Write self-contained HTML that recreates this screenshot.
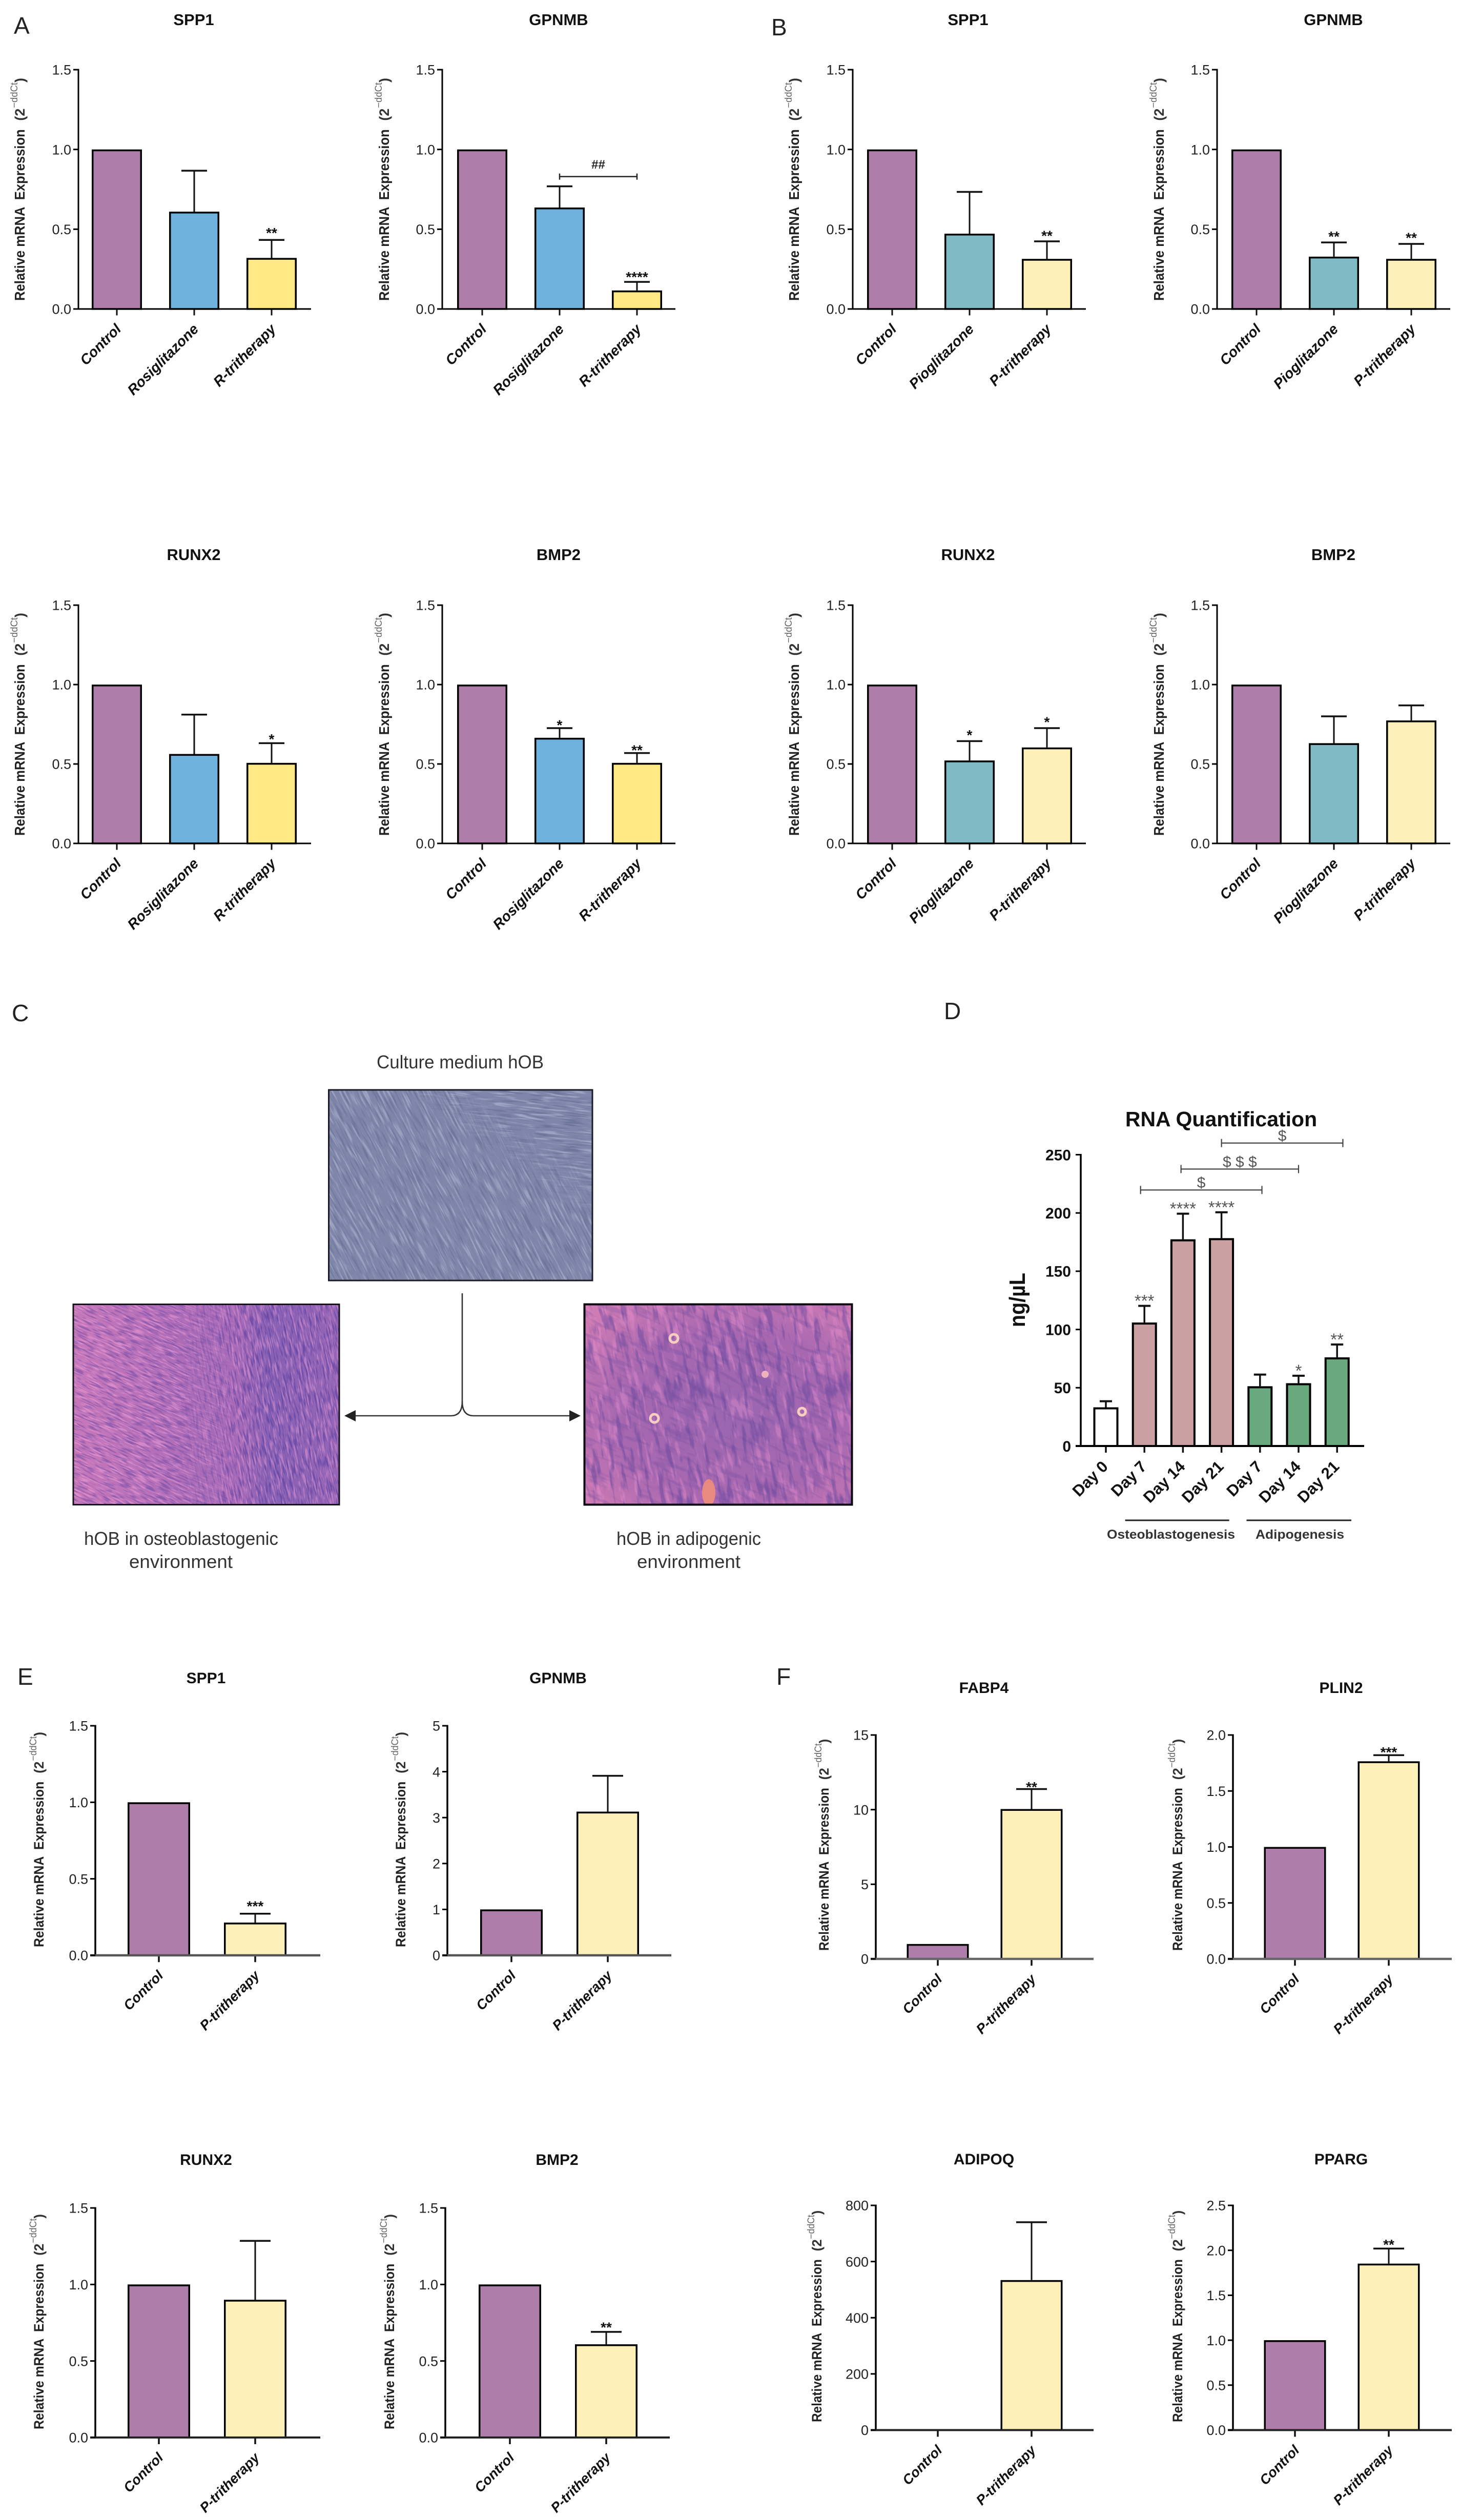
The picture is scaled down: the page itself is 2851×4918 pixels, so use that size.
<!DOCTYPE html>
<html lang="en">
<head>
<meta charset="utf-8">
<title>hOB gene expression figure</title>
<style>
html,body{margin:0;padding:0;background:#fff;}
svg{display:block;}
text{font-family:"Liberation Sans",sans-serif;}
</style>
</head>
<body>
<svg id="figure" xmlns="http://www.w3.org/2000/svg" width="2851" height="4918" viewBox="0 0 2851 4918">
  <defs>
    <filter id="topLight" x="0" y="0" width="1" height="1" color-interpolation-filters="sRGB"><feTurbulence type="fractalNoise" baseFrequency="0.022 0.24" numOctaves="2" seed="3"/><feColorMatrix values="0 0 0 0 0.85  0 0 0 0 0.87  0 0 0 0 0.95  5 0 0 0 -2.6"/></filter>
    <filter id="topDark" x="0" y="0" width="1" height="1" color-interpolation-filters="sRGB"><feTurbulence type="fractalNoise" baseFrequency="0.022 0.24" numOctaves="2" seed="11"/><feColorMatrix values="0 0 0 0 0.32  0 0 0 0 0.35  0 0 0 0 0.5  5 0 0 0 -2.6"/></filter>
    <filter id="pinkLight" x="0" y="0" width="1" height="1" color-interpolation-filters="sRGB"><feTurbulence type="fractalNoise" baseFrequency="0.04 0.3" numOctaves="2" seed="5"/><feColorMatrix values="0 0 0 0 0.98  0 0 0 0 0.66  0 0 0 0 0.87  6 0 0 0 -3"/></filter>
    <filter id="pinkDark" x="0" y="0" width="1" height="1" color-interpolation-filters="sRGB"><feTurbulence type="fractalNoise" baseFrequency="0.04 0.3" numOctaves="2" seed="17"/><feColorMatrix values="0 0 0 0 0.27  0 0 0 0 0.2  0 0 0 0 0.6  6 0 0 0 -3"/></filter>
    <filter id="cellLight" x="0" y="0" width="1" height="1" color-interpolation-filters="sRGB"><feTurbulence type="fractalNoise" baseFrequency="0.018 0.09" numOctaves="3" seed="9"/><feColorMatrix values="0 0 0 0 0.93  0 0 0 0 0.58  0 0 0 0 0.82  6 0 0 0 -3.2"/></filter>
    <filter id="cellDark" x="0" y="0" width="1" height="1" color-interpolation-filters="sRGB"><feTurbulence type="fractalNoise" baseFrequency="0.018 0.09" numOctaves="3" seed="23"/><feColorMatrix values="0 0 0 0 0.4  0 0 0 0 0.28  0 0 0 0 0.62  6 0 0 0 -3.2"/></filter>
    <clipPath id="clipTop"><rect x="640" y="2126" width="517" height="374"/></clipPath>
    <clipPath id="clipLeft"><rect x="142" y="2544" width="521" height="394"/></clipPath>
    <clipPath id="clipRight"><rect x="1139" y="2544" width="525" height="394"/></clipPath>
    <linearGradient id="topCornerFade" gradientUnits="userSpaceOnUse" x1="1010" y1="2290" x2="1060" y2="2215"><stop offset="0" stop-color="#000"/><stop offset="1" stop-color="#fff"/></linearGradient>
    <linearGradient id="leftFade" gradientUnits="userSpaceOnUse" x1="340" y1="2740" x2="470" y2="2740"><stop offset="0" stop-color="#000"/><stop offset="1" stop-color="#fff"/></linearGradient>
    <mask id="topCornerMask" maskUnits="userSpaceOnUse" x="640" y="2126" width="517" height="374"><rect x="640" y="2126" width="517" height="374" fill="url(#topCornerFade)"/></mask>
    <mask id="leftMask" maskUnits="userSpaceOnUse" x="142" y="2544" width="521" height="394"><rect x="142" y="2544" width="521" height="394" fill="url(#leftFade)"/></mask>
    <linearGradient id="leftGrad" x1="0" y1="0" x2="1" y2="0"><stop offset="0" stop-color="#c878ba"/><stop offset="0.42" stop-color="#ad6cb8"/><stop offset="0.62" stop-color="#8760b4"/><stop offset="1" stop-color="#9766b6"/></linearGradient>
    <radialGradient id="rightGrad" cx="0.55" cy="0.55" r="0.7"><stop offset="0" stop-color="#9a66b0"/><stop offset="0.6" stop-color="#a868b0"/><stop offset="1" stop-color="#d07cb4"/></radialGradient>
  </defs>

  <text x="27" y="66" font-size="46" fill="#222">A</text>
  <text x="1505" y="69" font-size="46" fill="#222">B</text>
  <text x="23" y="1993" font-size="46" fill="#222">C</text>
  <text x="1842" y="1989" font-size="46" fill="#222">D</text>
  <text x="34" y="3288" font-size="46" fill="#222">E</text>
  <text x="1515" y="3288" font-size="46" fill="#222">F</text>

  <g>
    <text x="735" y="2085" font-size="36" fill="#333" textLength="326" lengthAdjust="spacingAndGlyphs">Culture medium hOB</text>

    <g>
      <rect x="640" y="2126" width="517" height="374" fill="#7f86aa"/>
      <g clip-path="url(#clipTop)">
        <g transform="rotate(62 898 2313)"><rect x="400" y="1800" width="1000" height="1000" filter="url(#topLight)" opacity="0.32"/><rect x="400" y="1800" width="1000" height="1000" filter="url(#topDark)" opacity="0.32"/></g>
        <g mask="url(#topCornerMask)">
          <rect x="900" y="2126" width="257" height="260" fill="#7f86aa"/>
          <g transform="rotate(6 1058 2230)"><rect x="800" y="2000" width="520" height="460" filter="url(#topLight)" opacity="0.36"/><rect x="800" y="2000" width="520" height="460" filter="url(#topDark)" opacity="0.36"/></g>
        </g>
      </g>
      <rect x="641.5" y="2127" width="514.5" height="372" fill="none" stroke="#1c1c24" stroke-width="3"/>
    </g>

    <g>
      <rect x="142" y="2544" width="521" height="394" fill="url(#leftGrad)"/>
      <g clip-path="url(#clipLeft)">
        <g transform="rotate(25 280 2740)"><rect x="-100" y="2300" width="1000" height="900" filter="url(#pinkLight)" opacity="0.45"/><rect x="-100" y="2300" width="1000" height="900" filter="url(#pinkDark)" opacity="0.35"/></g>
        <g mask="url(#leftMask)">
          <rect x="300" y="2544" width="363" height="394" fill="url(#leftGrad)"/>
          <g transform="rotate(78 530 2740)"><rect x="100" y="2300" width="860" height="880" filter="url(#pinkLight)" opacity="0.4"/><rect x="100" y="2300" width="860" height="880" filter="url(#pinkDark)" opacity="0.45"/></g>
        </g>
      </g>
      <rect x="143" y="2545.5" width="519" height="391" fill="none" stroke="#17121c" stroke-width="3"/>
    </g>

    <g>
      <rect x="1139" y="2544" width="525" height="394" fill="url(#rightGrad)"/>
      <g clip-path="url(#clipRight)">
        <g transform="rotate(78 1400 2740)"><rect x="950" y="2280" width="900" height="920" filter="url(#cellLight)" opacity="0.4"/><rect x="950" y="2280" width="900" height="920" filter="url(#cellDark)" opacity="0.5"/></g>
        <g transform="rotate(25 1400 2740)"><rect x="950" y="2280" width="900" height="920" filter="url(#cellDark)" opacity="0.25"/></g>
        <ellipse cx="1383" cy="2913" rx="13" ry="26" fill="#e88a80"/>
        <circle cx="1315" cy="2612" r="8" fill="none" stroke="#f6cfc0" stroke-width="5"/>
        <circle cx="1277" cy="2768" r="8" fill="none" stroke="#f6cfc0" stroke-width="5"/>
        <circle cx="1565" cy="2755" r="7" fill="none" stroke="#f6cfc0" stroke-width="5"/>
        <circle cx="1493" cy="2682" r="7" fill="#eeb2bc"/>
      </g>
      <rect x="1140.5" y="2545.5" width="522" height="391" fill="none" stroke="#0c0810" stroke-width="4"/>
    </g>

    <g fill="none" stroke="#333" stroke-width="2.6">
      <path d="M902 2524 V2735 Q902 2763 880 2763 H690"/>
      <path d="M902 2735 Q902 2763 924 2763 H1115"/>
      <polygon points="672,2763 694,2752 694,2774" fill="#222" stroke="none"/>
      <polygon points="1133,2763 1111,2752 1111,2774" fill="#222" stroke="none"/>
    </g>

    <text x="164" y="3015" font-size="36" fill="#333" textLength="379" lengthAdjust="spacingAndGlyphs">hOB in osteoblastogenic</text>
    <text x="252" y="3060" font-size="36" fill="#333" textLength="202" lengthAdjust="spacingAndGlyphs">environment</text>
    <text x="1203" y="3015" font-size="36" fill="#333" textLength="282" lengthAdjust="spacingAndGlyphs">hOB in adipogenic</text>
    <text x="1243" y="3060" font-size="36" fill="#333" textLength="202" lengthAdjust="spacingAndGlyphs">environment</text>
  </g>
</svg>

<script>
/* ---------- data ---------- */
const rosCategories = ['Control', 'Rosiglitazone', 'R-tritherapy'];
const pioCategories = ['Control', 'Pioglitazone', 'P-tritherapy'];
const duoCategories = ['Control', 'P-tritherapy'];
const dayCategories = ['Day 0', 'Day 7', 'Day 14', 'Day 21', 'Day 7', 'Day 14', 'Day 21'];

const ticksUnit = ['0.0', '0.5', '1.0', '1.5'];
const ticksFive = ['0', '1', '2', '3', '4', '5'];
const ticksFifteen = ['0', '5', '10', '15'];
const ticksTwo = ['0.0', '0.5', '1.0', '1.5', '2.0'];
const ticksEightHundred = ['0', '200', '400', '600', '800'];
const ticksTwoHalf = ['0.0', '0.5', '1.0', '1.5', '2.0', '2.5'];
const ticksRna = ['0', '50', '100', '150', '200', '250'];

const aSpp1Values = [1, 0.61, 0.32];
const aSpp1Errors = [0, 0.257, 0.113];
const aSpp1Stars = ['', '', '**'];
const aGpnmbValues = [1, 0.636, 0.116];
const aGpnmbErrors = [0, 0.133, 0.054];
const aGpnmbStars = ['', '', '****'];
const aRunx2Values = [1, 0.563, 0.507];
const aRunx2Errors = [0, 0.248, 0.124];
const aRunx2Stars = ['', '', '*'];
const aBmp2Values = [1, 0.665, 0.507];
const aBmp2Errors = [0, 0.061, 0.062];
const aBmp2Stars = ['', '*', '**'];

const bSpp1Values = [1, 0.472, 0.314];
const bSpp1Errors = [0, 0.262, 0.11];
const bSpp1Stars = ['', '', '**'];
const bGpnmbValues = [1, 0.328, 0.314];
const bGpnmbErrors = [0, 0.089, 0.094];
const bGpnmbStars = ['', '**', '**'];
const bRunx2Values = [1, 0.522, 0.604];
const bRunx2Errors = [0, 0.122, 0.122];
const bRunx2Stars = ['', '*', '*'];
const bBmp2Values = [1, 0.631, 0.774];
const bBmp2Errors = [0, 0.169, 0.095];
const bBmp2Stars = ['', '', ''];

const rnaValues = [33.2, 106, 177.4, 178.4, 51.3, 53.9, 76.1];
const rnaErrors = [5.2, 14.3, 22, 22.2, 10, 6.4, 11];
const rnaStars = ['', '***', '****', '****', '', '*', '**'];
const rnaBracketStarts = [0.9, 1.95, 3];
const rnaBracketEnds = [4.05, 5, 6.15];
const rnaBracketLevels = [219.7, 237.7, 260];
const rnaBracketLabels = ['$', '$ $ $', '$'];

const eSpp1Values = [1, 0.214];
const eSpp1Errors = [0, 0.058];
const eSpp1Stars = ['', '***'];
const eGpnmbValues = [1, 3.13];
const eGpnmbErrors = [0, 0.78];
const eGpnmbStars = ['', ''];
const eRunx2Values = [1, 0.9];
const eRunx2Errors = [0, 0.385];
const eRunx2Stars = ['', ''];
const eBmp2Values = [1, 0.609];
const eBmp2Errors = [0, 0.081];
const eBmp2Stars = ['', '**'];

const fFabp4Values = [1, 10.04];
const fFabp4Errors = [0, 1.34];
const fFabp4Stars = ['', '**'];
const fPlin2Values = [1, 1.765];
const fPlin2Errors = [0, 0.055];
const fPlin2Stars = ['', '***'];
const fAdipoqValues = [1, 534];
const fAdipoqErrors = [0, 206];
const fAdipoqStars = ['', ''];
const fPpargValues = [1, 1.852];
const fPpargErrors = [0, 0.168];
const fPpargStars = ['', '**'];

const gpnmbBracketStarts = [1];
const gpnmbBracketEnds = [2];
const gpnmbBracketLevels = [0.83];
const gpnmbBracketLabels = ['##'];

/* ---------- styles ---------- */
const PURPLE = '#ae7da9', BLUE = '#6eb1dc', YELLOW = '#ffe985', TEAL = '#80bac5', CREAM = '#fdefb8';
const PINK = '#cba0a3', GREEN = '#69a97e';
const rosFills = [PURPLE, BLUE, YELLOW];
const pioFills = [PURPLE, TEAL, CREAM];
const duoFills = [PURPLE, CREAM];
const rnaFills = ['#ffffff', PINK, PINK, PINK, GREEN, GREEN, GREEN];

const abStyle = {barW: 98, step: 151, capW: 50, strokeW: 3.5, axisColor: '#000', axisW: 3, catFont: 28, titleFont: 31, labelLen: 437, labelFont: 28};
const efStyle = {barW: 122, step: 188, capW: 60, strokeW: 3.5, axisColor: '#444', axisW: 4, catFont: 27, titleFont: 30, labelLen: 422, labelFont: 27};

/* ---------- chart list ---------- */
const charts = [
  {...abStyle, id: 'a-spp1', title: 'SPP1', titleX: 378, titleY: 38, cats: rosCategories, fills: rosFills, vals: aSpp1Values, errs: aSpp1Errors, stars: aSpp1Stars, starGap: 20, ticks: ticksUnit, axisX: 153, top: 136, bottom: 603, first: 228, right: 607, labelX: 48, labelBottom: 587},
  {...abStyle, id: 'a-gpnmb', title: 'GPNMB', titleX: 1090, titleY: 38, cats: rosCategories, fills: rosFills, vals: aGpnmbValues, errs: aGpnmbErrors, stars: aGpnmbStars, starGap: 16, ticks: ticksUnit, axisX: 863, top: 136, bottom: 603, first: 941, right: 1318, labelX: 759, labelBottom: 587,
    bracket: {starts: gpnmbBracketStarts, ends: gpnmbBracketEnds, levels: gpnmbBracketLevels, labels: gpnmbBracketLabels, color: '#222', width: 2.5, half: 6, font: 24, gap: 24, weight: 'bold'}},
  {...abStyle, id: 'a-runx2', title: 'RUNX2', titleX: 378, titleY: 1082, cats: rosCategories, fills: rosFills, vals: aRunx2Values, errs: aRunx2Errors, stars: aRunx2Stars, starGap: 14, ticks: ticksUnit, axisX: 153, top: 1181, bottom: 1646, first: 228, right: 607, labelX: 48, labelBottom: 1631},
  {...abStyle, id: 'a-bmp2', title: 'BMP2', titleX: 1090, titleY: 1082, cats: rosCategories, fills: rosFills, vals: aBmp2Values, errs: aBmp2Errors, stars: aBmp2Stars, starGap: 12, ticks: ticksUnit, axisX: 863, top: 1181, bottom: 1646, first: 941, right: 1318, labelX: 759, labelBottom: 1631},

  {...abStyle, id: 'b-spp1', title: 'SPP1', titleX: 1889, titleY: 38, cats: pioCategories, fills: pioFills, vals: bSpp1Values, errs: bSpp1Errors, stars: bSpp1Stars, starGap: 17, ticks: ticksUnit, axisX: 1664, top: 136, bottom: 603, first: 1741, right: 2119, labelX: 1559, labelBottom: 587},
  {...abStyle, id: 'b-gpnmb', title: 'GPNMB', titleX: 2602, titleY: 38, cats: pioCategories, fills: pioFills, vals: bGpnmbValues, errs: bGpnmbErrors, stars: bGpnmbStars, starGap: 18, ticks: ticksUnit, axisX: 2375, top: 136, bottom: 603, first: 2452, right: 2830, labelX: 2271, labelBottom: 587},
  {...abStyle, id: 'b-runx2', title: 'RUNX2', titleX: 1889, titleY: 1082, cats: pioCategories, fills: pioFills, vals: bRunx2Values, errs: bRunx2Errors, stars: bRunx2Stars, starGap: 18, ticks: ticksUnit, axisX: 1664, top: 1181, bottom: 1646, first: 1741, right: 2119, labelX: 1559, labelBottom: 1631},
  {...abStyle, id: 'b-bmp2', title: 'BMP2', titleX: 2602, titleY: 1082, cats: pioCategories, fills: pioFills, vals: bBmp2Values, errs: bBmp2Errors, stars: bBmp2Stars, starGap: 18, ticks: ticksUnit, axisX: 2375, top: 1181, bottom: 1646, first: 2452, right: 2830, labelX: 2271, labelBottom: 1631},

  {...efStyle, id: 'e-spp1', title: 'SPP1', titleX: 402, titleY: 3274, cats: duoCategories, fills: duoFills, vals: eSpp1Values, errs: eSpp1Errors, stars: eSpp1Stars, starGap: 21, ticks: ticksUnit, axisX: 186, top: 3368, bottom: 3816, first: 310, right: 625, labelX: 85, labelBottom: 3800, axisColor: '#555', axisW: 4.5},
  {...efStyle, id: 'e-gpnmb', title: 'GPNMB', titleX: 1089, titleY: 3274, cats: duoCategories, fills: duoFills, vals: eGpnmbValues, errs: eGpnmbErrors, stars: eGpnmbStars, starGap: 14, ticks: ticksFive, axisX: 873, top: 3368, bottom: 3816, first: 998, right: 1310, labelX: 791, labelBottom: 3800, axisColor: '#555', axisW: 4.5},
  {...efStyle, id: 'e-runx2', title: 'RUNX2', titleX: 402, titleY: 4214, cats: duoCategories, fills: duoFills, vals: eRunx2Values, errs: eRunx2Errors, stars: eRunx2Stars, starGap: 14, ticks: ticksUnit, axisX: 186, top: 4309, bottom: 4757, first: 310, right: 625, labelX: 85, labelBottom: 4741, axisColor: '#222'},
  {...efStyle, id: 'e-bmp2', title: 'BMP2', titleX: 1087, titleY: 4214, cats: duoCategories, fills: duoFills, vals: eBmp2Values, errs: eBmp2Errors, stars: eBmp2Stars, starGap: 15, ticks: ticksUnit, axisX: 869, top: 4309, bottom: 4757, first: 995, right: 1307, labelX: 769, labelBottom: 4741, axisColor: '#222'},

  {...efStyle, id: 'f-fabp4', title: 'FABP4', titleX: 1920, titleY: 3293, cats: duoCategories, fills: duoFills, vals: fFabp4Values, errs: fFabp4Errors, stars: fFabp4Stars, starGap: 10, ticks: ticksFifteen, axisX: 1709, top: 3386, bottom: 3823, first: 1830, step: 183, barW: 121, right: 2134, labelX: 1617, labelBottom: 3807, labelLen: 415, axisColor: '#666', axisW: 4.5},
  {...efStyle, id: 'f-plin2', title: 'PLIN2', titleX: 2617, titleY: 3293, cats: duoCategories, fills: duoFills, vals: fPlin2Values, errs: fPlin2Errors, stars: fPlin2Stars, starGap: 12, ticks: ticksTwo, axisX: 2406, top: 3386, bottom: 3823, first: 2527, step: 183, barW: 121, right: 2833, labelX: 2307, labelBottom: 3807, labelLen: 415, axisColor: '#666', axisW: 4.5},
  {...efStyle, id: 'f-adipoq', title: 'ADIPOQ', titleX: 1920, titleY: 4213, cats: duoCategories, fills: duoFills, vals: fAdipoqValues, errs: fAdipoqErrors, stars: fAdipoqStars, starGap: 14, ticks: ticksEightHundred, axisX: 1709, top: 4304, bottom: 4742.5, first: 1830, step: 183, barW: 121, right: 2134, labelX: 1603, labelBottom: 4727, labelLen: 415, axisColor: '#222'},
  {...efStyle, id: 'f-pparg', title: 'PPARG', titleX: 2617, titleY: 4213, cats: duoCategories, fills: duoFills, vals: fPpargValues, errs: fPpargErrors, stars: fPpargStars, starGap: 14, ticks: ticksTwoHalf, axisX: 2406, top: 4304, bottom: 4742.5, first: 2527, step: 183, barW: 121, right: 2833, labelX: 2307, labelBottom: 4727, labelLen: 415, axisColor: '#222'},

  {id: 'd-rna', title: 'RNA Quantification', titleX: 2383, titleY: 2183, titleFont: 41, cats: dayCategories, fills: rnaFills, vals: rnaValues, errs: rnaErrors, stars: rnaStars, starGap: 17, ticks: ticksRna, axisX: 2109, top: 2253.5, bottom: 2822, first: 2158, step: 75.2, barW: 49, right: 2662, capW: 24, strokeW: 4, axisColor: '#000', axisW: 4, catFont: 31, catUpright: true, catDx: 6, catDy: 42, tickFont: 30, tickWeight: 'bold', tickColor: '#111', tickRight: 2090, starFont: 33, starColor: '#555', starWeight: 'normal', plainLabel: 'ng/µL', plainLabelX: 2000, plainLabelBottom: 2590,
    bracket: {starts: rnaBracketStarts, ends: rnaBracketEnds, levels: rnaBracketLevels, labels: rnaBracketLabels, color: '#444', width: 2.2, half: 8, font: 30, gap: 15, weight: 'normal', textColor: '#555'}}
];

/* ---------- drawing ---------- */
const NS = 'http://www.w3.org/2000/svg';
const figure = document.getElementById('figure');

function svgEl(tag, attrs, parent) {
  const el = document.createElementNS(NS, tag);
  for (const k in attrs) el.setAttribute(k, attrs[k]);
  parent.appendChild(el);
  return el;
}

function drawChart(c) {
  const maxTick = parseFloat(c.ticks[c.ticks.length - 1]);
  const yOf = v => c.bottom - (v / maxTick) * (c.bottom - c.top);
  const xOf = i => c.first + i * c.step;
  const g = svgEl('g', {}, figure);
  
  

  const title = svgEl('text', {x: c.titleX, y: c.titleY + c.titleFont * 0.36, 'font-size': c.titleFont, 'font-weight': 'bold', 'text-anchor': 'middle', fill: '#111'}, g);
  title.textContent = c.title;
  
  

  c.vals.forEach((v, i) => {
    const inset = c.strokeW / 2;
    const cx = xOf(i);
    if (c.errs[i] > 0) {
      const errTop = yOf(v + c.errs[i]);
      const stem = svgEl('line', {x1: cx, x2: cx, y1: yOf(v), y2: errTop, stroke: '#111', 'stroke-width': c.strokeW - 0.5}, g);
      
      
      const cap = svgEl('line', {x1: cx - c.capW / 2, x2: cx + c.capW / 2, y1: errTop, y2: errTop, stroke: '#111', 'stroke-width': c.strokeW}, g);
      
      
    }
    const barY = yOf(v);
    const bar = svgEl('rect', {x: cx - c.barW / 2 + inset, y: barY + inset, width: c.barW - c.strokeW, height: Math.max(0, c.bottom - barY - inset), fill: c.fills[i], stroke: '#000', 'stroke-width': c.strokeW}, g);
    
    

    if (c.stars[i]) {
      const fs = c.starFont || 28;
      const yc = yOf(v + c.errs[i]) - c.starGap;
      const star = svgEl('text', {x: cx, y: yc + fs * 0.56, 'font-size': fs, 'font-weight': c.starWeight || 'bold', 'text-anchor': 'middle', fill: c.starColor || '#111'}, g);
      star.textContent = c.stars[i];
      
      
    }

    const tick = svgEl('line', {x1: cx, x2: cx, y1: c.bottom, y2: c.bottom + 11 + c.axisW / 2, stroke: '#111', 'stroke-width': c.axisW > 3 ? 3.5 : 3}, g);
    
    

    const lx = cx + (c.catDx === undefined ? 10 : c.catDx);
    const ly = c.bottom + (c.catDy === undefined ? 41 : c.catDy);
    const cat = svgEl('text', {x: lx, y: ly, 'font-size': c.catFont, 'font-weight': 'bold', 'font-style': c.catUpright ? 'normal' : 'italic', 'text-anchor': 'end', fill: '#111', transform: 'rotate(-45 ' + lx + ' ' + ly + ')'}, g);
    cat.textContent = c.cats[i];
    
    
  });

  const yAxis = svgEl('line', {x1: c.axisX, x2: c.axisX, y1: c.top - 1.5, y2: c.bottom, stroke: '#000', 'stroke-width': c.axisW > 3.5 ? 3.5 : c.axisW}, g);
  
  
  const xAxis = svgEl('line', {x1: c.axisX - 10, x2: c.right, y1: c.bottom, y2: c.bottom, stroke: c.axisColor, 'stroke-width': c.axisW}, g);
  
  

  c.ticks.forEach((label, i) => {
    const ty = yOf(parseFloat(label));
    const tick = svgEl('line', {x1: c.axisX - 10, x2: c.axisX, y1: ty, y2: ty, stroke: '#000', 'stroke-width': 3}, g);
    
    
    const fs = c.tickFont || 27;
    const tl = svgEl('text', {x: c.tickRight || c.axisX - 14, y: ty + fs * 0.36, 'font-size': fs, 'font-weight': c.tickWeight || 'normal', 'text-anchor': 'end', fill: c.tickColor || '#222'}, g);
    tl.textContent = label;
    
    
  });

  if (c.plainLabel) {
    const t = svgEl('text', {x: c.plainLabelX, y: c.plainLabelBottom, 'font-size': 44, 'font-weight': 'bold', fill: '#111', textLength: 106, lengthAdjust: 'spacingAndGlyphs', transform: 'rotate(-90 ' + c.plainLabelX + ' ' + c.plainLabelBottom + ')'}, g);
    t.textContent = c.plainLabel;
    
    
  } else {
    const L = c.labelLen;
    const lab = svgEl('g', {transform: 'translate(' + c.labelX + ' ' + c.labelBottom + ') rotate(-90)'}, g);
    
    
    const main = svgEl('text', {x: 0, y: 0, 'font-size': c.labelFont, 'font-weight': 'bold', fill: '#222', textLength: L * 0.766, lengthAdjust: 'spacingAndGlyphs'}, lab);
    main.textContent = 'Relative mRNA  Expression';
    main.style.whiteSpace = 'pre';
    const open = svgEl('text', {x: L * 0.804, y: 0, 'font-size': c.labelFont - 1, 'font-weight': 'bold', fill: '#333'}, lab);
    open.textContent = '(2';
    const sup = svgEl('text', {x: L * 0.861, y: -14, 'font-size': 19, fill: '#666', textLength: L * 0.114, lengthAdjust: 'spacingAndGlyphs'}, lab);
    sup.textContent = '−ddCt';
    const close = svgEl('text', {x: L * 0.975, y: 0, 'font-size': c.labelFont - 1, 'font-weight': 'bold', fill: '#333'}, lab);
    close.textContent = ')';
  }

  if (c.bracket) {
    const b = c.bracket;
    b.starts.forEach((s, i) => {
      const x1 = xOf(s), x2 = xOf(b.ends[i]), by = yOf(b.levels[i]);
      const br = svgEl('path', {d: 'M' + x1 + ' ' + (by - b.half) + 'V' + (by + b.half) + 'M' + x1 + ' ' + by + 'H' + x2 + 'M' + x2 + ' ' + (by - b.half) + 'V' + (by + b.half), fill: 'none', stroke: b.color, 'stroke-width': b.width}, g);
      
      
      const bl = svgEl('text', {x: (x1 + x2) / 2, y: by - b.gap + b.font * 0.36, 'font-size': b.font, 'font-weight': b.weight, 'text-anchor': 'middle', fill: b.textColor || '#222'}, g);
      bl.textContent = b.labels[i];
      
      
    });
  }
}

charts.forEach(drawChart);

/* RNA panel grouping rules */
const groupLabels = ['Osteoblastogenesis', 'Adipogenesis'];
const groupFirstBar = [0.5, 3.65];
const groupLastBar = [3.2, 6.37];
const groupTextX = [2160, 2450];
const groupTextLen = [250, 173];
const rna = charts[charts.length - 1];
groupLabels.forEach((label, i) => {
  const rule = svgEl('line', {x1: rna.first + groupFirstBar[i] * rna.step, x2: rna.first + groupLastBar[i] * rna.step, y1: 2967, y2: 2967, stroke: '#222', 'stroke-width': 3}, figure);
  
  
  const t = svgEl('text', {x: groupTextX[i], y: 3003, 'font-size': 25, 'font-weight': 'bold', fill: '#333', textLength: groupTextLen[i], lengthAdjust: 'spacingAndGlyphs'}, figure);
  t.textContent = label;
  
  
});
</script>
</body>
</html>
